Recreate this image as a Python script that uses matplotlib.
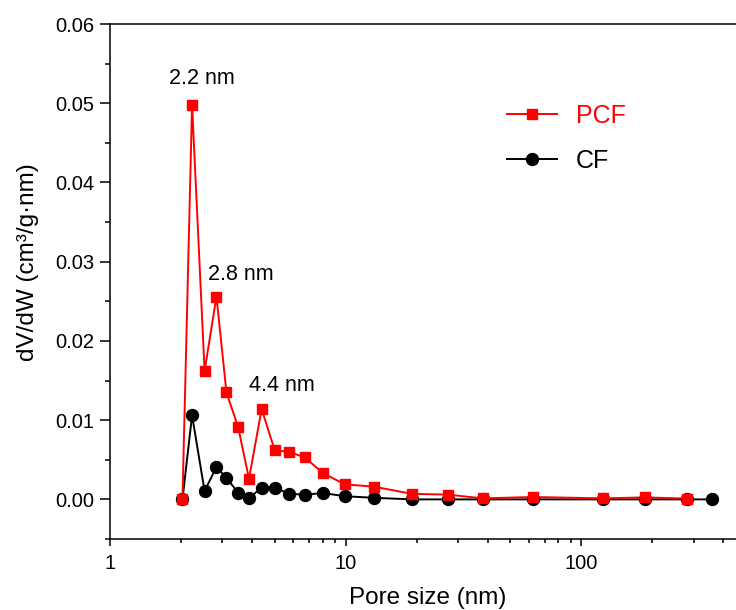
import numpy as np
import matplotlib
matplotlib.use('Agg')
import matplotlib.pyplot as plt
from matplotlib.ticker import FixedLocator, FixedFormatter, MultipleLocator, FormatStrFormatter, NullFormatter

plt.rcParams['font.family'] = ['Liberation Sans', 'DejaVu Sans']

# pore size (nm) and dV/dW
pcf_x = [2.03, 2.23, 2.52, 2.83, 3.12, 3.50, 3.89, 4.40, 5.00, 5.75, 6.71, 8.02, 9.92,
         13.2, 19.1, 27.2, 38.1, 62.5, 123.6, 186, 280]
pcf_y = [0.0, 0.0498, 0.0162, 0.0256, 0.0135, 0.0091, 0.0026, 0.0114, 0.0062, 0.0060, 0.0053, 0.0033, 0.0019,
         0.0016, 0.0007, 0.0006, 0.00013, 0.0003, 0.00013, 0.00025, 0.0001]

cf_x = [2.03, 2.23, 2.52, 2.83, 3.12, 3.50, 3.89, 4.40, 5.00, 5.75, 6.71, 8.02, 9.92,
        13.2, 19.1, 27.2, 38.1, 62.5, 123.6, 186, 280, 358]
cf_y = [0.0, 0.0106, 0.00105, 0.0041, 0.0027, 0.00084, 0.00013, 0.0015, 0.0015, 0.0007, 0.0006, 0.0008, 0.0004,
        0.0002, 0.0, 0.0, 0.0, 0.0, 0.0, 0.0, 0.0, 0.0]

peak_idx = [1, 3, 7]
peak_labels = ['2.2 nm', '2.8 nm', '4.4 nm']
peak_offsets = [(10, 26), (24, 22), (20, 24)]

fig = plt.figure(figsize=(7.36, 6.10), dpi=100)
ax = fig.add_axes([110/736, 71/610, 636/736, 515/610])

ax.plot(cf_x, cf_y, '-o', color='black', lw=1.4, ms=8.6, label='CF', zorder=2)
ax.plot(pcf_x, pcf_y, '-s', color='red', lw=1.4, ms=7.6, label='PCF', zorder=3)

for i, lab, off in zip(peak_idx, peak_labels, peak_offsets):
    ax.annotate(lab, xy=(pcf_x[i], pcf_y[i]), xytext=off, textcoords='offset pixels',
                ha='center', va='center', fontsize=15.5)

ax.set_xscale('log')
ax.set_xlim(1, 500)
ax.set_ylim(-0.005, 0.06)

ax.xaxis.set_major_locator(FixedLocator([1, 10, 100]))
ax.xaxis.set_major_formatter(FixedFormatter(['1', '10', '100']))
minors = [m * d for d in [1, 10, 100] for m in range(2, 10)]
ax.xaxis.set_minor_locator(FixedLocator(minors))
ax.xaxis.set_minor_formatter(NullFormatter())

ax.yaxis.set_major_locator(MultipleLocator(0.01))
ax.yaxis.set_minor_locator(MultipleLocator(0.005))
ax.yaxis.set_major_formatter(FormatStrFormatter('%.2f'))

ax.tick_params(which='both', direction='out', width=1.1, labelsize=14.5)
ax.tick_params(axis='x', which='major', length=5, pad=6)
ax.tick_params(axis='x', which='minor', length=3)
ax.tick_params(axis='y', which='major', length=7, pad=4)
ax.tick_params(axis='y', which='minor', length=3.6)
for s in ax.spines.values():
    s.set_linewidth(1.1)

ax.set_xlabel('Pore size (nm)', fontsize=17.5, labelpad=10)
ax.set_ylabel('dV/dW (cm³/g·nm)', fontsize=17.5, labelpad=12)
ax.yaxis.label.set_y(0.537)

handles, labels = ax.get_legend_handles_labels()
ax.legend(handles[::-1], labels[::-1], loc='upper left', bbox_to_anchor=(507/736, 1 - 104/610),
          bbox_transform=fig.transFigure, frameon=False, fontsize=18, handlelength=2.0,
          handletextpad=0.75, labelspacing=0.82, borderpad=0, borderaxespad=0, labelcolor='linecolor')

fig.savefig('out.png', dpi=100)
